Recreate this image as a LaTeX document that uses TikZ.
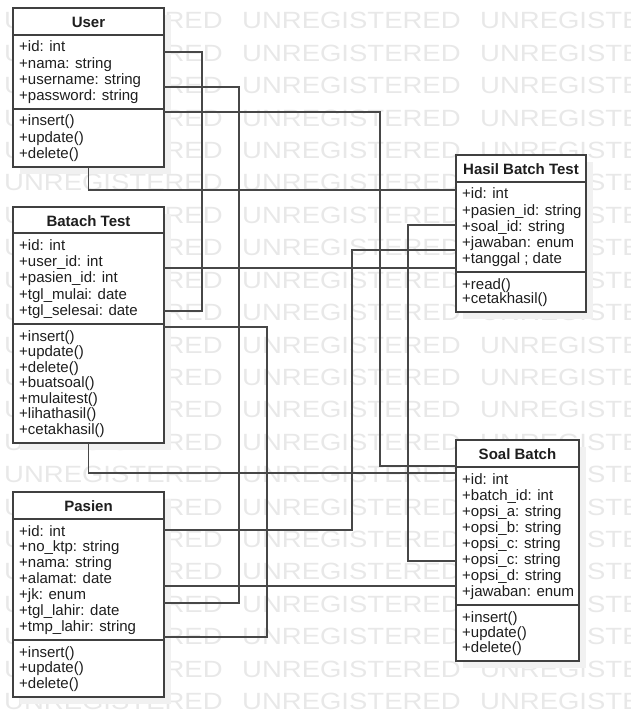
\documentclass[tikz,border=0pt]{standalone}
\usepackage{fontspec}
\setmainfont{Liberation Sans}
\usetikzlibrary{calc}

\definecolor{ink}{HTML}{1E1E1E}
\definecolor{edge}{HTML}{404040}
\definecolor{wire}{HTML}{474747}
\definecolor{shade}{HTML}{F1F1F1}
\definecolor{wmark}{HTML}{E8E8E8}

\tikzset{
  classbox/.style={draw=edge, line width=1.3pt, fill=white, inner sep=0pt,
    outer sep=0pt, anchor=north west},
  boxshade/.style={fill=shade},
  member/.style={anchor=base west, inner sep=0pt, text=ink,
    font=\fontsize{15}{15}\selectfont},
  classtitle/.style={anchor=base, inner sep=0pt, text=ink,
    font=\fontsize{15}{15}\selectfont\bfseries},
  divider/.style={draw=edge, line width=1.3pt},
  link/.style={draw=wire, line width=1.2pt},
  wmtext/.style={anchor=base west, inner sep=0pt, text=wmark,
    font=\fontsize{23.5}{23.5}\selectfont},
}

% frame of a class: name, left, top, right, title bottom, divider, bottom, title
\newcommand{\classframe}[8]{%
  \fill[boxshade] (#2+7,#3+7) rectangle (#4+7,#7+7);
  \node[classbox, minimum width={#4-#2}, minimum height={#7-#3}] (#1) at (#2,#3) {};
  \draw[divider] (#1.west |- 0,#5) -- (#1.east |- 0,#5);
  \draw[divider] (#1.west |- 0,#6) -- (#1.east |- 0,#6);
  \node[classtitle] (#1-title) at ({(#2+#4)/2},#3+19.5) {#8};
}

% rows of one compartment: prefix, left, top, bottom, count, entries
\newcommand{\members}[6]{%
  \foreach \entry [count=\k from 0] in {#6} {
    \pgfmathsetmacro{\yy}{#3+17+\k*(#4-#3-25.5)/(#5-1)}
    \node[member] (#1-\k) at (#2+6,\yy) {\entry};
  }
}

\begin{document}
\begin{tikzpicture}[x=1pt, y=-1pt]
  \useasboundingbox (0,0) rectangle (630,711);
  \clip (0,0) rectangle (630,711);

  % background lettering
  \foreach \r in {0,...,21} {
    \foreach \c in {0,1,2} {
      \node[wmtext] (wm-\r-\c) at (4+238*\c, 29+32.4*\r)
        {\scalebox{1.17}[1]{UNREGISTERED}};
    }
  }

  % User
  \classframe{user}{13}{8}{164}{35}{109}{167}{User}
  \members{user-a}{13}{35}{109}{4}{+id: int, +nama: string, +username: string, +password: string}
  \members{user-m}{13}{109}{167}{3}{+insert(), +update(), +delete()}

  % Batach Test
  \classframe{batch}{13}{207}{164}{233}{324}{443}{Batach Test}
  \members{batch-a}{13}{233}{324}{5}{+id: int, +user\_id: int, +pasien\_id: int, +tgl\_mulai: date, +tgl\_selesai: date}
  \members{batch-m}{13}{324}{443}{7}{+insert(), +update(), +delete(), +buatsoal(), +mulaitest(), +lihathasil(), +cetakhasil()}

  % Pasien
  \classframe{pasien}{13}{492}{164}{519}{640}{697}{Pasien}
  \members{pasien-a}{13}{519}{640}{7}{+id: int, +no\_ktp: string, +nama: string, +alamat: date, +jk: enum, +tgl\_lahir: date, +tmp\_lahir: string}
  \members{pasien-m}{13}{640}{697}{3}{+insert(), +update(), +delete()}

  % Hasil Batch Test
  \classframe{hasil}{456}{155}{586}{182}{272}{312}{Hasil Batch Test}
  \members{hasil-a}{456}{182}{272}{5}{+id: int, +pasien\_id: string, +soal\_id: string, +jawaban: enum, +tanggal ; date}
  \members{hasil-m}{456}{272}{312}{2}{+read(), +cetakhasil()}

  % Soal Batch
  \classframe{soal}{456}{440}{579}{467}{605}{661}{Soal Batch}
  \members{soal-a}{456}{467}{605}{8}{+id: int, +batch\_id: int, +opsi\_a: string, +opsi\_b: string, +opsi\_c: string, +opsi\_c: string, +opsi\_d: string, +jawaban: enum}
  \members{soal-m}{456}{605}{661}{3}{+insert(), +update(), +delete()}

  % associations
  \draw[link] (user.east |- 0,52) -- ++(38,0) |- (batch.east |- 0,311);
  \draw[link] (user.east |- 0,87) -- ++(75,0) |- (pasien.east |- 0,603);
  \draw[link] (user.east |- 0,112) -- ++(216,0) |- (soal.west |- 0,466);
  \draw[link] (user.south) |- (hasil.west |- 0,190);
  \draw[link] (batch.east |- 0,268) -- (hasil.west |- 0,268);
  \draw[link] (batch.east |- 0,327) -- ++(103,0) |- (pasien.east |- 0,637);
  \draw[link] (batch.south) |- (soal.west |- 0,473);
  \draw[link] (pasien.east |- 0,530) -- ++(188,0) |- (hasil.west |- 0,250);
  \draw[link] (pasien.east |- 0,586) -- (soal.west |- 0,586);
  \draw[link] (hasil.west |- 0,225) -- ++(-48,0) |- (soal.west |- 0,561);
\end{tikzpicture}
\end{document}
